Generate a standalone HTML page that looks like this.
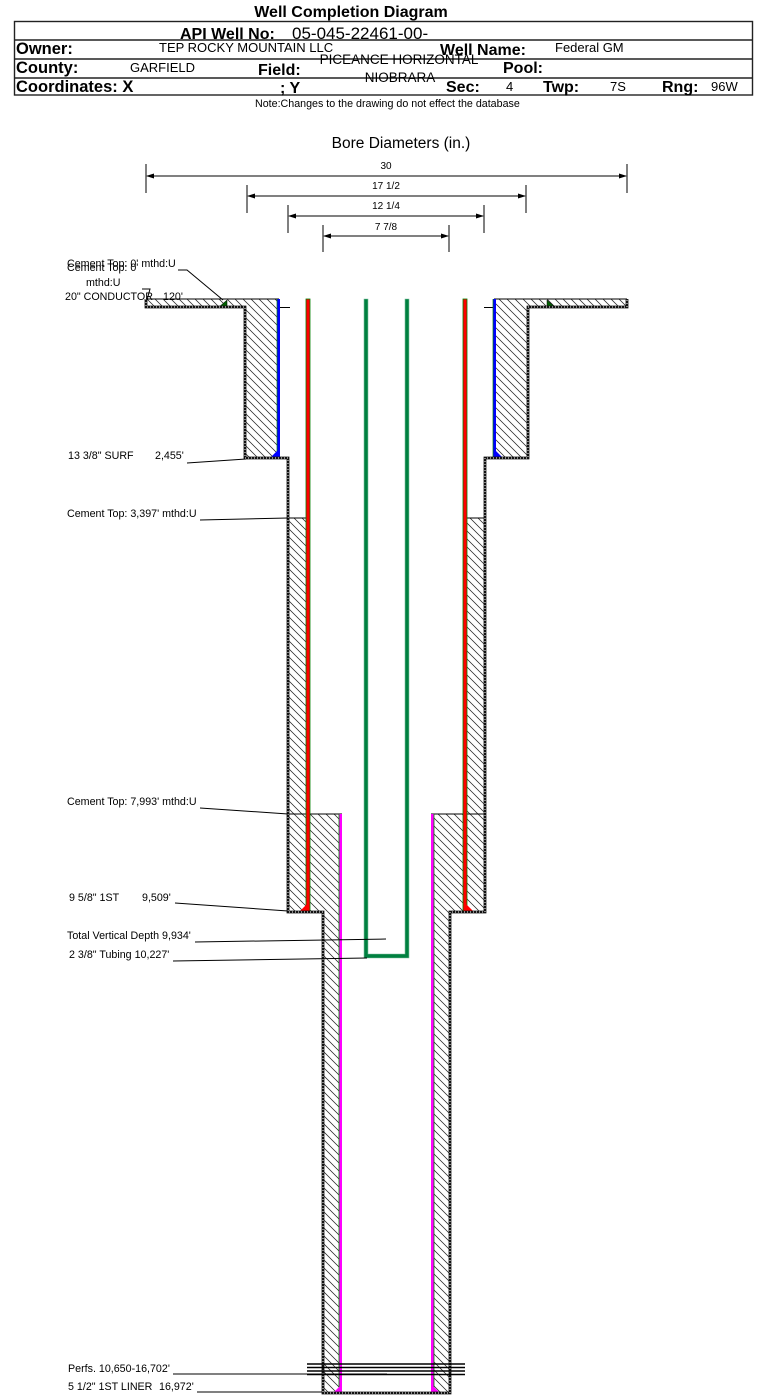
<!DOCTYPE html>
<html><head><meta charset="utf-8"><style>
html,body{margin:0;padding:0;background:#fff;}
svg{display:block;}
text{font-family:"Liberation Sans",Arial,sans-serif;fill:#000;}
.b{font-weight:bold;font-size:16px;}
.bl{font-weight:bold;font-size:16.5px;}
.r{font-size:13px;}
.l{font-size:10.7px;}
.d{font-size:10px;}
</style></head><body>
<svg width="759" height="1395" viewBox="0 0 759 1395" xmlns="http://www.w3.org/2000/svg">
<defs>
<pattern id="h" patternUnits="userSpaceOnUse" width="8" height="8">
<path d="M0,0L8,8M-1,7L1,9M7,-1L9,1" stroke="#222" stroke-width="0.75" fill="none"/>
</pattern>
<marker id="ae" markerWidth="8" markerHeight="6" refX="7" refY="3" orient="auto" markerUnits="userSpaceOnUse">
<path d="M0,0.5L8,3L0,5.5Z" fill="#000"/>
</marker>
<marker id="as" markerWidth="8" markerHeight="6" refX="1" refY="3" orient="auto" markerUnits="userSpaceOnUse">
<path d="M8,0.5L0,3L8,5.5Z" fill="#000"/>
</marker>
</defs>

<!-- Header -->
<text x="351" y="17" class="b" text-anchor="middle">Well Completion Diagram</text>
<rect x="14.5" y="21.5" width="738" height="73.5" fill="none" stroke="#222" stroke-width="1.4"/>
<line x1="14.5" y1="40" x2="752.5" y2="40" stroke="#222" stroke-width="1.4"/>
<line x1="14.5" y1="59" x2="752.5" y2="59" stroke="#222" stroke-width="1.4"/>
<line x1="14.5" y1="78" x2="752.5" y2="78" stroke="#222" stroke-width="1.4"/>

<text x="180" y="39" class="b">API Well No:</text>
<text x="292" y="39" style="font-size:17px">05-045-22461-00-</text>
<text x="16" y="54" class="bl">Owner:</text>
<text x="159" y="52" class="r">TEP ROCKY MOUNTAIN LLC</text>
<text x="440" y="55" class="b">Well Name:</text>
<text x="555" y="52" class="r">Federal GM</text>
<text x="16" y="73" class="bl">County:</text>
<text x="130" y="72" class="r">GARFIELD</text>
<text x="258" y="75" class="b">Field:</text>
<text x="399" y="64" style="font-size:13.5px" text-anchor="middle">PICEANCE HORIZONTAL</text>
<text x="400" y="82" style="font-size:13.5px" text-anchor="middle">NIOBRARA</text>
<text x="503" y="73" class="b">Pool:</text>
<text x="16" y="92" class="bl">Coordinates: X</text>
<text x="280" y="93" class="b">; Y</text>
<text x="446" y="92" class="b">Sec:</text>
<text x="506" y="91" class="r">4</text>
<text x="543" y="92" class="b">Twp:</text>
<text x="610" y="91" class="r">7S</text>
<text x="662" y="92" class="b">Rng:</text>
<text x="711" y="91" class="r">96W</text>
<text x="255" y="107" style="font-size:10.7px">Note:Changes to the drawing do not effect the database</text>

<!-- Bore diameters -->
<text x="401" y="148" style="font-size:15.5px" text-anchor="middle">Bore Diameters (in.)</text>
<g stroke="#000" stroke-width="1">
<line x1="146" y1="164" x2="146" y2="193"/><line x1="627" y1="164" x2="627" y2="193"/>
<line x1="147" y1="176" x2="626" y2="176" marker-start="url(#as)" marker-end="url(#ae)"/>
<line x1="247" y1="185" x2="247" y2="213"/><line x1="526" y1="185" x2="526" y2="213"/>
<line x1="248" y1="196" x2="525" y2="196" marker-start="url(#as)" marker-end="url(#ae)"/>
<line x1="288" y1="205" x2="288" y2="233"/><line x1="484" y1="205" x2="484" y2="233"/>
<line x1="289" y1="216" x2="483" y2="216" marker-start="url(#as)" marker-end="url(#ae)"/>
<line x1="323" y1="225" x2="323" y2="252"/><line x1="449" y1="225" x2="449" y2="252"/>
<line x1="324" y1="236" x2="448" y2="236" marker-start="url(#as)" marker-end="url(#ae)"/>
</g>
<text x="386" y="169" class="d" text-anchor="middle">30</text>
<text x="386" y="189" class="d" text-anchor="middle">17 1/2</text>
<text x="386" y="209" class="d" text-anchor="middle">12 1/4</text>
<text x="386" y="230" class="d" text-anchor="middle">7 7/8</text>

<!-- Hatched cement -->
<g fill="url(#h)">
<rect x="146" y="299" width="133" height="8"/>
<rect x="245" y="307" width="33" height="151"/>
<rect x="288" y="518" width="18" height="394"/>
<rect x="310" y="814" width="29" height="98"/>
<rect x="323" y="912" width="16" height="481"/>
<rect x="494" y="299" width="133" height="8"/>
<rect x="496" y="307" width="32" height="151"/>
<rect x="467" y="518" width="18" height="394"/>
<rect x="434" y="814" width="29" height="98"/>
<rect x="434" y="912" width="16" height="481"/>
</g>

<!-- thin lines -->
<g stroke="#000" stroke-width="1" fill="none">
<line x1="146" y1="299" x2="279" y2="299"/>
<line x1="494" y1="299" x2="627" y2="299"/>
<line x1="279" y1="307.5" x2="290" y2="307.5"/>
<line x1="484" y1="307.5" x2="494" y2="307.5"/>
<line x1="288" y1="518" x2="306" y2="518"/>
<line x1="467" y1="518" x2="485" y2="518"/>
<line x1="288" y1="814" x2="342" y2="814"/>
<line x1="431" y1="814" x2="485" y2="814"/>
</g>

<!-- Casings -->
<rect x="277" y="299" width="3" height="159" fill="#0000ff"/>
<line x1="277" y1="299" x2="277" y2="458" stroke="#008000" stroke-width="0.7"/>
<rect x="493" y="299" width="3" height="159" fill="#0000ff"/>
<line x1="493" y1="299" x2="493" y2="458" stroke="#008000" stroke-width="0.7"/>
<rect x="306" y="299" width="4" height="613" fill="#ff0000" stroke="#008000" stroke-width="0.8"/>
<rect x="463" y="299" width="4" height="613" fill="#ff0000" stroke="#008000" stroke-width="0.8"/>
<rect x="339" y="814" width="3" height="579" fill="#ff00ff"/>
<line x1="339" y1="814" x2="339" y2="1393" stroke="#008000" stroke-width="0.8"/>
<rect x="431" y="814" width="3" height="579" fill="#ff00ff"/>
<line x1="434" y1="814" x2="434" y2="1393" stroke="#008000" stroke-width="0.8"/>
<path d="M364,299H368V954H405V299H409V958H364Z" fill="#008040" stroke="#80c0a0" stroke-width="0.6"/>

<!-- Shoes -->
<path d="M270,458L279,458L279,449Z" fill="#0000ff"/>
<path d="M503,458L494,458L494,449Z" fill="#0000ff"/>
<path d="M299,912L309,912L309,902Z" fill="#ff0000"/>
<path d="M474,912L464,912L464,902Z" fill="#ff0000"/>
<path d="M333,1393L342,1393L342,1384Z" fill="#ff00ff"/>
<path d="M440,1393L431,1393L431,1384Z" fill="#ff00ff"/>
<path d="M219,307L227,307L227,300Z" fill="#006000" stroke="#000" stroke-width="0.5"/>
<path d="M547,300L547,307L555,307Z" fill="#006000" stroke="#000" stroke-width="0.5"/>

<!-- Outer walls -->
<path d="M146,299V307H245V458H288V912H323V1393H450V912H485V458H528V307H627V299" fill="none" stroke="#111" stroke-width="2.8"/>
<path d="M146,299V307H245V458H288V912H323V1393H450V912H485V458H528V307H627V299" fill="none" stroke="#fff" stroke-width="1" stroke-dasharray="1,2"/>

<!-- Perfs -->
<g stroke="#000" stroke-width="1.6">
<line x1="307" y1="1364" x2="465" y2="1364"/>
<line x1="307" y1="1367.5" x2="465" y2="1367.5"/>
<line x1="307" y1="1371" x2="465" y2="1371"/>
<line x1="307" y1="1374.5" x2="465" y2="1374.5"/>
</g>

<!-- Leaders -->
<g stroke="#000" stroke-width="1" fill="none">
<polyline points="178,270 187,270 223,300"/>
<polyline points="142,289 150,289 147,300"/>
<line x1="187" y1="463" x2="246" y2="459"/>
<line x1="200" y1="520" x2="288" y2="518"/>
<line x1="200" y1="808" x2="288" y2="814"/>
<line x1="175" y1="903" x2="288" y2="911"/>
<line x1="195" y1="942" x2="386" y2="939"/>
<line x1="173" y1="961" x2="367" y2="958"/>
<line x1="173" y1="1374" x2="387" y2="1374"/>
<line x1="197" y1="1392" x2="322" y2="1392"/>
</g>

<!-- Labels -->
<text x="67" y="267" class="l">Cement Top: 0' mthd:U</text>
<text x="67" y="271" class="l">Cement Top: 0'</text>
<text x="86" y="286" class="l">mthd:U</text>
<text x="65" y="300" class="l">20" CONDUCTOR</text>
<text x="163" y="300" class="l">120'</text>
<text x="68" y="459" class="l">13 3/8" SURF</text>
<text x="155" y="459" class="l">2,455'</text>
<text x="67" y="517" class="l">Cement Top: 3,397' mthd:U</text>
<text x="67" y="805" class="l">Cement Top: 7,993' mthd:U</text>
<text x="69" y="901" class="l">9 5/8" 1ST</text>
<text x="142" y="901" class="l">9,509'</text>
<text x="67" y="939" class="l">Total Vertical Depth 9,934'</text>
<text x="69" y="958" class="l">2 3/8" Tubing 10,227'</text>
<text x="68" y="1372" class="l">Perfs. 10,650-16,702'</text>
<text x="68" y="1390" class="l">5 1/2" 1ST LINER</text>
<text x="159" y="1390" class="l">16,972'</text>
</svg>
</body></html>
